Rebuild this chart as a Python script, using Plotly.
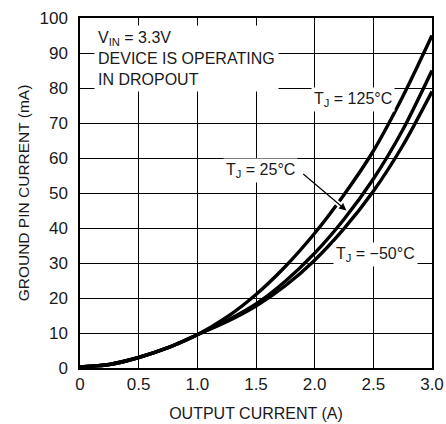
import plotly.graph_objects as go

# Output current (A)
current_a = [0.0, 0.25, 0.5, 0.75, 1.0, 1.25, 1.5, 1.75, 2.0, 2.25, 2.5, 2.75, 3.0]

# Ground pin current (mA) for each junction temperature
gnd_125c = [0.3, 1.0, 3.0, 5.8, 9.5, 14.5, 21.0, 29.0, 38.5, 49.5, 62.0, 77.5, 95.0]
gnd_25c = [0.3, 1.0, 3.0, 5.8, 9.5, 13.5, 18.3, 24.8, 32.8, 42.5, 54.0, 68.0, 85.0]
gnd_m50c = [0.3, 1.0, 3.0, 5.8, 9.5, 13.2, 17.7, 23.5, 30.8, 39.8, 50.5, 63.5, 79.0]

x_ticks = [0, 0.5, 1.0, 1.5, 2.0, 2.5, 3.0]
x_tick_text = ["0", "0.5", "1.0", "1.5", "2.0", "2.5", "3.0"]
y_ticks = [0, 10, 20, 30, 40, 50, 60, 70, 80, 90, 100]

FONT = "Liberation Sans, Arial, sans-serif"

fig = go.Figure()
for ys in (gnd_m50c, gnd_25c, gnd_125c):
    fig.add_trace(go.Scatter(
        x=current_a, y=ys, mode="lines",
        line=dict(color="black", width=3.4, shape="spline", smoothing=0.8),
        showlegend=False, hoverinfo="skip",
    ))

fig.update_layout(
    width=446, height=424,
    margin=dict(l=80, r=14, t=18, b=56),
    paper_bgcolor="white", plot_bgcolor="white",
    font=dict(family=FONT, size=17, color="#1a1a1a"),
    xaxis=dict(
        range=[0, 3.0], tickvals=x_ticks, ticktext=x_tick_text,
        showgrid=True, gridcolor="black", gridwidth=1,
        showline=True, linecolor="black", linewidth=1.5, mirror=True,
        zeroline=False, ticks="", tickfont=dict(size=17), automargin=False,
        title=dict(text="OUTPUT CURRENT (A)", font=dict(size=16), standoff=15),
    ),
    yaxis=dict(
        range=[0, 100], tickvals=y_ticks,
        showgrid=True, gridcolor="black", gridwidth=1,
        showline=True, linecolor="black", linewidth=1.5, mirror=True,
        zeroline=False, ticks="", tickfont=dict(size=17), automargin=False,
        ticklabelstandoff=7,
        title=dict(text="GROUND PIN CURRENT (mA)", font=dict(size=15.5), standoff=6),
    ),
)

# white break in the 125°C curve where the pointer crosses it
fig.add_shape(
    type="line", xref="x", yref="y", layer="above",
    x0=2.14, y0=55.8 - 28.42 * (2.14 - 1.89),
    x1=2.24, y1=55.8 - 28.42 * (2.24 - 1.89),
    line=dict(color="white", width=5),
)

fig.add_annotation(
    x=0.12, y=88.5, xref="x", yref="y", xanchor="left", yanchor="middle",
    align="left", showarrow=False, bgcolor="white", borderpad=3,
    text="V<sub>IN</sub> = 3.3V<br>DEVICE IS OPERATING<br>IN DROPOUT",
    font=dict(size=16),
)
fig.add_annotation(
    x=2.33, y=76.7, xref="x", yref="y", showarrow=False, bgcolor="white",
    borderpad=2, text="T<sub>J</sub> = 125°C", font=dict(size=16),
)
fig.add_annotation(
    x=1.54, y=56.3, xref="x", yref="y", showarrow=False, bgcolor="white",
    borderpad=2, text="T<sub>J</sub> = 25°C", font=dict(size=16),
)
fig.add_annotation(
    x=2.52, y=32.4, xref="x", yref="y", showarrow=False, bgcolor="white",
    borderpad=2, text="T<sub>J</sub> = −50°C", font=dict(size=16),
)
# pointer from the 25°C label to its curve
fig.add_annotation(
    x=2.27, y=45.0, ax=1.89, ay=55.8, xref="x", yref="y", axref="x", ayref="y",
    text="", showarrow=True, arrowhead=2, arrowsize=1.2, arrowwidth=1.2,
    arrowcolor="black",
)

fig.write_html("out.html")
